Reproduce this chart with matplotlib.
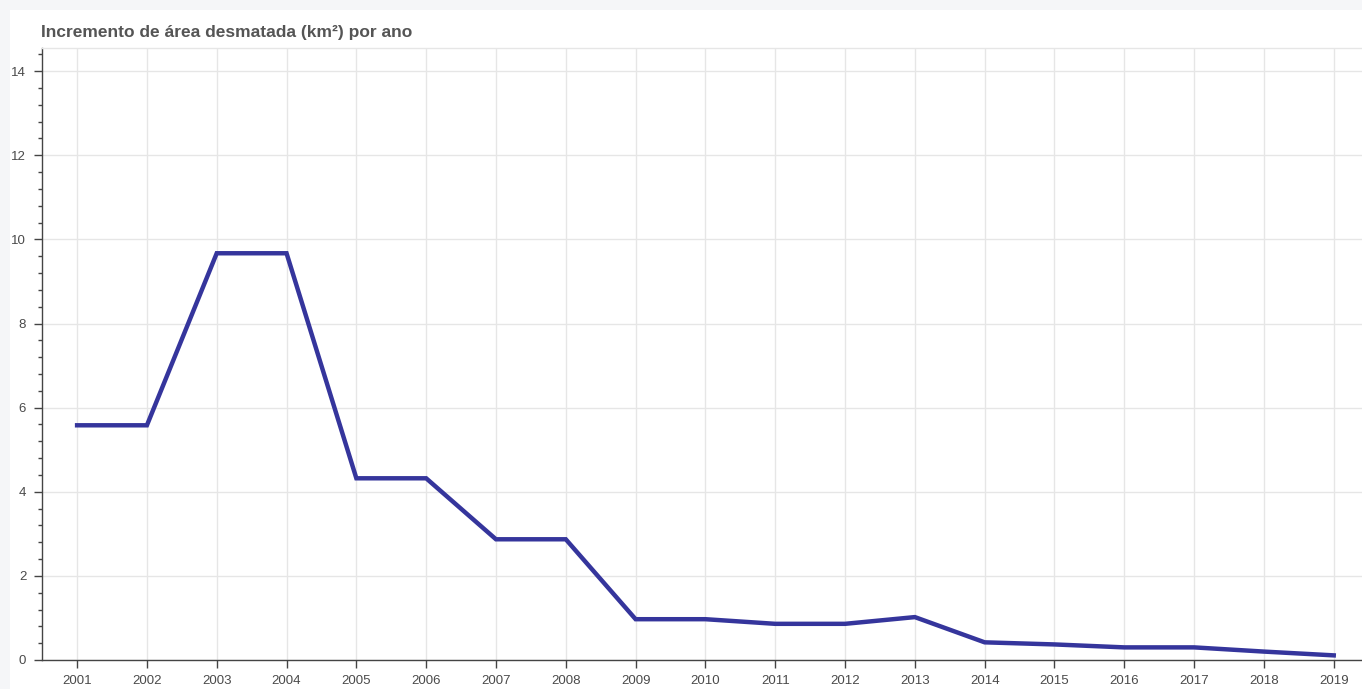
import matplotlib
matplotlib.use('Agg')
import matplotlib.pyplot as plt
from matplotlib.patches import Rectangle
from matplotlib.ticker import MultipleLocator

years = list(range(2001, 2020))
values = [5.58, 5.58, 9.67, 9.67, 4.32, 4.32, 2.87, 2.87, 0.97, 0.97,
          0.86, 0.86, 1.02, 0.42, 0.37, 0.30, 0.30, 0.20, 0.11]
title = "Incremento de área desmatada (km²) por ano"

plt.rcParams['font.family'] = ['Liberation Sans', 'DejaVu Sans']

W, H = 1362, 689
fig = plt.figure(figsize=(W / 100, H / 100), dpi=100)
fig.patch.set_facecolor('#f5f6f8')
fig.patches.append(Rectangle((10 / W, 0), 1, (H - 10) / H, transform=fig.transFigure,
                             facecolor='white', edgecolor='none', zorder=-10))

left, top, bottom = 41.5, 48, 660
ax = fig.add_axes([left / W, (H - bottom) / H, (W - left) / W + 0.01, (bottom - top) / H])
ax.set_facecolor('white')

ax.plot(years, values, color='#35359c', lw=3.2, solid_joinstyle='miter', zorder=3)

ax.set_xlim(2000.49, 2019.6)
ax.set_ylim(0, 14.55)
ax.set_xticks(years)
ax.set_xticklabels([str(y) for y in years])
ax.yaxis.set_major_locator(MultipleLocator(2))
ax.yaxis.set_minor_locator(MultipleLocator(0.4))

ax.grid(True, which='major', color='#e6e6e6', lw=1.0, zorder=0)
ax.spines['right'].set_visible(False)
ax.spines['top'].set_color('#e6e6e6')
ax.spines['top'].set_linewidth(1.0)
for s in ['left', 'bottom']:
    ax.spines[s].set_color('#444444')
    ax.spines[s].set_linewidth(1.0)

ax.tick_params(axis='both', which='major', direction='out', length=6, width=1,
               color='#444444', labelsize=9.5, labelcolor='#4a4a4a')
ax.tick_params(axis='y', which='major', pad=5)
ax.tick_params(axis='x', which='major', pad=5)
ax.tick_params(axis='y', which='minor', direction='out', length=3, width=1, color='#444444')
ax.tick_params(axis='x', which='minor', length=0)

fig.text(41 / W, 1 - 32 / H, title, fontsize=12.5, fontweight='bold', color='#555555',
         ha='left', va='center')

fig.savefig('out.png', dpi=100, facecolor=fig.get_facecolor())
